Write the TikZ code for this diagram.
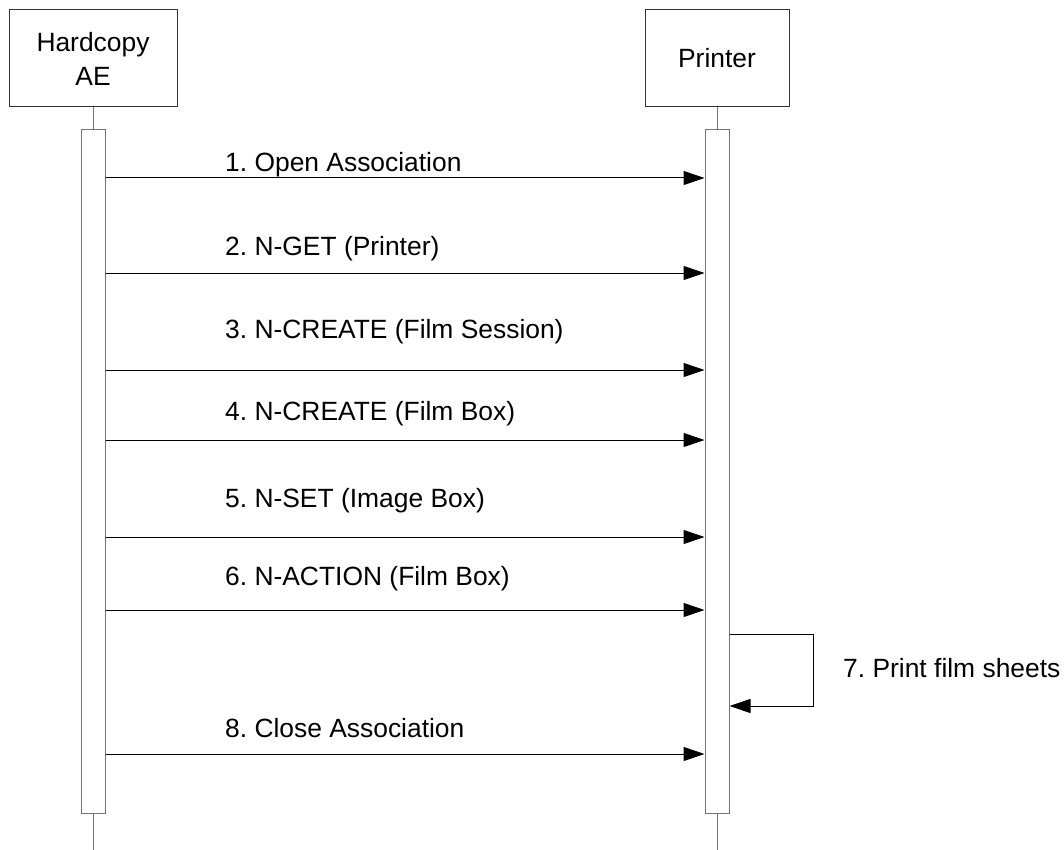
\documentclass[tikz,border=0pt]{standalone}
\usepackage{fontspec}
\setmainfont{Liberation Sans}
\usetikzlibrary{arrows.meta}
\frenchspacing

\begin{document}
\begin{tikzpicture}[x=1pt,y=-1pt]
    \tikzstyle{actor}=[
        draw=black!80,
        line width=1pt,
        minimum width=168pt,
        minimum height=97pt,
        align=center,
        font=\fontsize{26.4}{34}\selectfont]
    \tikzstyle{bar}=[draw=black!55, line width=1pt, inner sep=0pt,
        minimum width=24pt, minimum height=683pt]
    \tikzstyle{life}=[draw=black!55, line width=1pt]
    \tikzstyle{msg}=[draw=black, line width=1pt,
        -{Triangle[length=21pt,width=14pt]}]
    \tikzstyle{lbl}=[anchor=base west, inner sep=0pt,
        font=\fontsize{26.4}{34}\selectfont]

    \useasboundingbox (0,0) rectangle (1064,850);

    % lifelines
    \node[actor] (hc) at (93,58.5) {Hardcopy\\AE};
    \node[actor, minimum width=144pt] (pr) at (717,58.5) {Printer};
    \node[bar] (hcbar) at (93,471.5) {};
    \node[bar] (prbar) at (717,471.5) {};
    \coordinate (hcend) at (93,850);
    \coordinate (prend) at (717,850);
    \draw[life] (hc) -- (hcbar);
    \draw[life] (pr) -- (prbar);
    \draw[life] (hcbar) -- (hcend);
    \draw[life] (prbar) -- (prend);

    % messages
    \foreach \n/\y/\b/\t in {1/178/172/Open Association,
                             2/273/255/N-GET (Printer),
                             3/370/338/N-CREATE (Film Session),
                             4/440/420/N-CREATE (Film Box),
                             5/537/507/N-SET (Image Box),
                             6/610/585/N-ACTION (Film Box),
                             8/754/737/Close Association} {
        \coordinate (m\n) at (0,\y);
        \draw[msg] (hcbar.east |- m\n) -- (prbar.west |- m\n);
        \node[lbl] (l\n) at (225,\b) {\n. \t};
    }

    % self call
    \coordinate (s1) at (0,634);
    \coordinate (s2) at (0,706);
    \draw[msg] (prbar.east |- s1) -- ++(84,0) |- (prbar.east |- s2);
    \node[lbl] (l7) at (843,677) {7. Print film sheets};
\end{tikzpicture}
\end{document}
